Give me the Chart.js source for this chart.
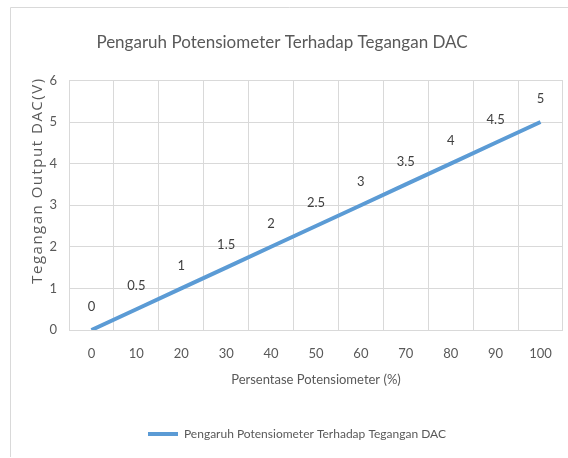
<!DOCTYPE html>
<html>
<head>
<meta charset="utf-8">
<script src="https://cdn.jsdelivr.net/npm/chart.js@4.4.1/dist/chart.umd.min.js"></script>
<style>
  html, body { margin: 0; padding: 0; background: #fff; }
  #wrap { width: 568px; height: 458px; }
</style>
</head>
<body>
<div id="wrap"><canvas id="chart" width="568" height="458"></canvas></div>
<script>
var persen = ['0', '10', '20', '30', '40', '50', '60', '70', '80', '90', '100'];
var tegangan = [0, 0.5, 1, 1.5, 2, 2.5, 3, 3.5, 4, 4.5, 5];
var yTicks = [0, 1, 2, 3, 4, 5, 6];
var yTitle = 'Tegangan Output DAC(V)';

var fontName = "Lato, 'Open Sans', sans-serif";
var textColor = '#595959';
var gridColor = '#d9d9d9';

// border around the whole chart, like the excel chart frame
var frame = {
  id: 'frame',
  beforeDraw: function (chart) {
    var c = chart.ctx;
    c.save();
    c.strokeStyle = '#d9d9d9';
    c.lineWidth = 1;
    c.beginPath();
    c.moveTo(10.5, 457);
    c.lineTo(10.5, 7.5);
    c.lineTo(568, 7.5);
    c.stroke();
    c.restore();
  },
  // nudge the legend a bit to the right like in the excel one
  afterLayout: function (chart) {
    chart.legend.left += 30;
  }
};

// value labels above each point
var valueLabels = {
  id: 'valueLabels',
  afterDatasetsDraw: function (chart) {
    var c = chart.ctx;
    var meta = chart.getDatasetMeta(0);
    c.save();
    c.font = '13px ' + fontName;
    c.fillStyle = '#404040';
    c.textAlign = 'center';
    c.textBaseline = 'middle';
    meta.data.forEach(function (pt, i) {
      c.fillText(String(tegangan[i]), pt.x, pt.y - 23);
    });
    c.restore();
  }
};

// y axis title drawn by hand so it can get a bit of letter spacing
var yAxisTitle = {
  id: 'yAxisTitle',
  afterDraw: function (chart) {
    var c = chart.ctx;
    var ys = chart.scales.y;
    c.save();
    c.translate(ys.left + 38, chart.chartArea.top - 3);
    c.rotate(-Math.PI / 2);
    c.font = "15px 'Open Sans', sans-serif";
    c.letterSpacing = '1.5px';
    c.fillStyle = textColor;
    c.textAlign = 'right';
    c.textBaseline = 'middle';
    c.fillText(yTitle, 0, 0);
    c.restore();
  }
};

new Chart(document.getElementById('chart'), {
  type: 'line',
  data: {
    labels: persen,
    datasets: [{
      label: 'Pengaruh Potensiometer Terhadap Tegangan DAC',
      data: tegangan,
      borderColor: '#5B9BD5',
      backgroundColor: '#5B9BD5',
      borderWidth: 4,
      pointRadius: 0,
      tension: 0
    }]
  },
  options: {
    responsive: false,
    animation: false,
    layout: { padding: { left: 0, right: 4, top: 0, bottom: 8 } },
    plugins: {
      title: {
        display: true,
        text: 'Pengaruh Potensiometer Terhadap Tegangan DAC',
        color: textColor,
        font: { family: fontName, size: 17, weight: 'normal' },
        padding: { top: 32, bottom: 28 }
      },
      legend: {
        position: 'bottom',
        labels: {
          color: textColor,
          font: { family: fontName, size: 12 },
          usePointStyle: true,
          pointStyle: 'line',
          pointStyleWidth: 30,
          padding: 10
        }
      },
      tooltip: { enabled: false }
    },
    scales: {
      x: {
        offset: true,
        grid: { offset: true, color: gridColor, drawTicks: false },
        border: { color: gridColor },
        ticks: { color: textColor, font: { family: fontName, size: 13 }, padding: 16, maxRotation: 0 },
        title: {
          display: true,
          text: 'Persentase Potensiometer (%)',
          color: textColor,
          font: { family: fontName, size: 13 },
          padding: { top: 0, bottom: 30 }
        },
        afterFit: function (s) { s.height = 88; }
      },
      y: {
        min: 0,
        max: 6,
        afterBuildTicks: function (s) { s.ticks = yTicks.map(function (v) { return { value: v }; }); },
        grid: { color: gridColor, drawTicks: false },
        border: { display: false },
        ticks: { color: textColor, font: { family: fontName, size: 13 }, padding: 12 },
        afterFit: function (s) { s.width = 69; }
      }
    }
  },
  plugins: [frame, valueLabels, yAxisTitle]
});
</script>
</body>
</html>
